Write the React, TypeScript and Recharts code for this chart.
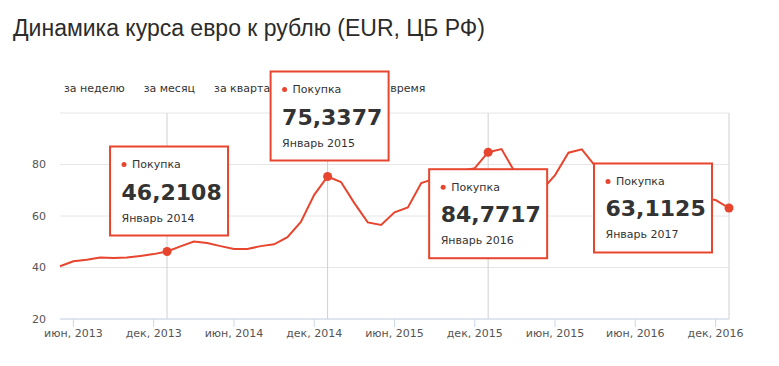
import React from 'react';
import { LineChart, Line, XAxis, YAxis, CartesianGrid, ReferenceLine } from 'recharts';

const title = 'Динамика курса евро к рублю (EUR, ЦБ РФ)';
const periodButtons = ['за неделю', 'за месяц', 'за квартал', 'за год', 'за всё время'];
const seriesName = 'Покупка';

const rateValues = [
  40.5, 42.4, 43.0, 43.9, 43.7, 43.9, 44.5, 45.2, 46.2108, 48.2,
  50.1, 49.5, 48.3, 47.2, 47.2, 48.3, 49.0, 51.8, 57.7, 68.2,
  75.3377, 73.2, 65.0, 57.5, 56.5, 61.4, 63.3, 72.8, 74.5, 76.0,
  77.5, 78.6, 84.7717, 86.0, 77.0, 73.0, 70.0, 75.9, 84.6, 85.9,
  79.4, 76.0, 74.0, 72.0, 70.0, 68.0, 67.0, 66.5, 67.0, 66.2,
  63.1125,
];
const categories = rateValues.map((_, i) => i);

const tickPositions = [1, 7, 13, 19, 25, 31, 37, 43, 49];
const tickLabels = [
  'июн, 2013', 'дек, 2013', 'июн, 2014', 'дек, 2014', 'июн, 2015',
  'дек, 2015', 'июн, 2015', 'июн, 2016', 'дек, 2016',
];
const yTicks = [20, 40, 60, 80, 100];

const highlightIndex = [8, 20, 32, 50];
const highlightDates = ['Январь 2014', 'Январь 2015', 'Январь 2016', 'Январь 2017'];
const highlightPlacement = ['top', 'top', 'bottom', 'left'];

const data = categories.map((c, i) => ({ idx: c, rate: rateValues[i] }));

const RED = '#e8452f';
const SMALL_FONT = '"DejaVu Sans", Verdana, sans-serif';
const TITLE_FONT = '"Liberation Sans", Arial, Helvetica, sans-serif';

function renderDot(p: any) {
  const { cx, cy, index } = p;
  const k = highlightIndex.indexOf(index);
  if (k < 0 || cx == null || cy == null) return <g key={`dot-${index}`} />;
  const W = 120;
  const H = 91;
  const place = highlightPlacement[k];
  let bx: number;
  let by: number;
  if (place === 'top') {
    bx = cx - W / 2 + 2;
    by = cy - 15 - H;
  } else if (place === 'bottom') {
    bx = cx - W / 2;
    by = cy + 16;
  } else {
    bx = cx - 16 - W;
    by = cy - H / 2;
  }
  const v = rateValues[index].toFixed(4).replace('.', ',');
  return (
    <g key={`dot-${index}`}>
      <circle cx={cx} cy={cy} r={4.5} fill={RED} />
      <rect x={bx + 1} y={by + 1} width={W - 2} height={H - 2} fill="#fff" stroke={RED} strokeWidth={2} />
      <circle cx={bx + 15} cy={by + 19} r={2.5} fill={RED} />
      <text x={bx + 23} y={by + 22.7} fontSize={11} fill="#333" fontFamily={SMALL_FONT}>
        {seriesName}
      </text>
      <text x={bx + 12.5} y={by + 54} fontSize={22} fontWeight="bold" fill="#333" fontFamily={SMALL_FONT}>
        {v}
      </text>
      <text x={bx + 12.5} y={by + 76} fontSize={11} fill="#333" fontFamily={SMALL_FONT}>
        {highlightDates[k]}
      </text>
    </g>
  );
}

export default function App() {
  return (
    <div style={{ position: 'absolute', left: 0, top: 0, width: 779, height: 366, background: '#fff', overflow: 'hidden' }}>
      <div
        style={{
          position: 'absolute',
          left: 13,
          top: 16.5,
          fontFamily: TITLE_FONT,
          fontSize: 23,
          lineHeight: '23px',
          color: '#2b2b2b',
          whiteSpace: 'nowrap',
        }}
      >
        {title}
      </div>
      <div
        style={{
          position: 'absolute',
          left: 64,
          top: 82.7,
          display: 'flex',
          gap: 19,
          fontFamily: SMALL_FONT,
          fontSize: 11,
          lineHeight: '11px',
          color: '#333',
          whiteSpace: 'nowrap',
        }}
      >
        {periodButtons.map((b) => (
          <span key={b}>{b}</span>
        ))}
      </div>
      <div style={{ position: 'absolute', left: 0, top: 0 }}>
        <LineChart
          width={779}
          height={366}
          data={data}
          margin={{ top: 113, right: 50, bottom: 17, left: 0 }}
          style={{ fontFamily: SMALL_FONT }}
        >
          <CartesianGrid vertical={false} stroke="#e6e6e6" />
          {highlightIndex.map((i) => (
            <ReferenceLine key={`v${i}`} x={i} stroke="#d0d0d0" strokeWidth={1} />
          ))}
          <XAxis
            dataKey="idx"
            type="category"
            ticks={tickPositions}
            interval={0}
            tickFormatter={(v: any) => tickLabels[tickPositions.indexOf(v)] ?? ''}
            tickSize={8}
            tickLine={{ stroke: '#ccd6eb' }}
            axisLine={{ stroke: '#ccd6eb' }}
            tick={{ fontSize: 11, fill: '#555', fontFamily: SMALL_FONT }}
            height={30}
          />
          <YAxis
            domain={[20, 100]}
            ticks={yTicks}
            axisLine={false}
            tickLine={false}
            tickSize={0}
            tickMargin={14}
            width={60}
            tickFormatter={(v: any) => (v === 100 ? '' : String(v))}
            tick={{ fontSize: 11, fill: '#555', fontFamily: SMALL_FONT }}
          />
          <Line
            dataKey="rate"
            type="linear"
            stroke={RED}
            strokeWidth={2}
            dot={renderDot}
            activeDot={false}
            isAnimationActive={false}
          />
        </LineChart>
      </div>
    </div>
  );
}
